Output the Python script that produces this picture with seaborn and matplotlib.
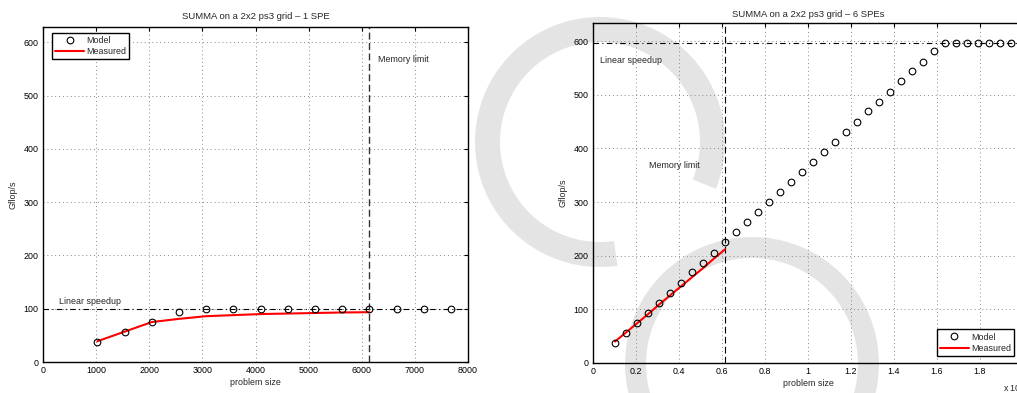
import matplotlib
matplotlib.use("Agg")
import matplotlib.pyplot as plt
from matplotlib.patches import Wedge
import seaborn as sns
import numpy as np

# ---------------- data ----------------
# Left: 1 SPE
left_model_x = [1024, 1536, 2048, 2560, 3072, 3584, 4096, 4608, 5120, 5632, 6144, 6656, 7168, 7680]
left_model_y = [37.5, 56, 75, 93.5, 100, 100, 100, 100, 100, 100, 100, 100, 100, 100]
left_meas_x = [1024, 1536, 2048, 2560, 3072, 3584, 4096, 4608, 5120, 5632, 6144]
left_meas_y = [39, 57, 75, 81, 86, 88, 90, 91, 92, 93, 93.5]
left_speedup = 100
left_memlimit = 6144

# Right: 6 SPEs (problem size in units of 10^4)
right_model_x = [0.1024, 0.1536, 0.2048, 0.2560, 0.3072, 0.3584, 0.4096, 0.4608, 0.5120, 0.5632,
                 0.6144, 0.6656, 0.7168, 0.7680, 0.8192, 0.8704, 0.9216, 0.9728, 1.0240, 1.0752,
                 1.1264, 1.1776, 1.2288, 1.2800, 1.3312, 1.3824, 1.4336, 1.4848, 1.5360, 1.5872,
                 1.6384, 1.6896, 1.7408, 1.7920, 1.8432, 1.8944, 1.9456]
right_model_y = [37.5, 56, 75, 94, 112, 131, 150, 169, 187, 206,
                 225, 244, 262, 281, 300, 319, 337, 356, 375, 394,
                 412, 431, 450, 469, 487, 506, 525, 544, 562, 581,
                 597, 597, 597, 597, 597, 597, 597]
right_meas_x = [0.1024, 0.1536, 0.2048, 0.2560, 0.3072, 0.3584, 0.4096, 0.4608, 0.5120, 0.5632, 0.6144]
right_meas_y = [40, 57, 74, 91, 109, 126, 143, 160, 177, 195, 212]
right_speedup = 597
right_memlimit = 0.6144

left_xticks = [0, 1000, 2000, 3000, 4000, 5000, 6000, 7000, 8000]
right_xticks = [0, 0.2, 0.4, 0.6, 0.8, 1.0, 1.2, 1.4, 1.6, 1.8]
yticks = [0, 100, 200, 300, 400, 500, 600]

titles = ["SUMMA on a 2x2 ps3 grid \u2013 1 SPE", "SUMMA on a 2x2 ps3 grid \u2013 6 SPEs"]

# ---------------- style ----------------
sns.set_style("white")
plt.rcParams['font.family'] = ['Liberation Sans', 'DejaVu Sans']
FS = 6.4

W, H = 1017, 393
fig = plt.figure(figsize=(W / 100, H / 100), dpi=100)

def px_axes(l, r, t, b):
    return fig.add_axes([l / W, (H - b) / H, (r - l) / W, (b - t) / H])

axL = px_axes(43, 468, 27, 362)
axR = px_axes(593, 1023, 23, 363)

# watermark rings (decorative, behind axes)
ring_col = '#e4e4e4'
w1 = Wedge((6.00, (H - 142) / 100), 1.25, -22, 278, width=0.25,
           transform=fig.dpi_scale_trans, facecolor=ring_col, edgecolor='none', zorder=-5)
w2 = Wedge((7.52, (H - 364) / 100), 1.27, 0, 360, width=0.21,
           transform=fig.dpi_scale_trans, facecolor=ring_col, edgecolor='none', zorder=-5)
fig.add_artist(w1)
fig.add_artist(w2)

def style_axes(ax, xticks, ylim, xlim):
    ax.set_facecolor('none')
    ax.set_xlim(*xlim)
    ax.set_ylim(*ylim)
    ax.set_xticks(xticks)
    ax.set_yticks(yticks)
    ax.xaxis.set_major_formatter(matplotlib.ticker.FormatStrFormatter('%g'))
    ax.grid(True, linestyle=(0, (1, 3)), color='#8a8a8a', linewidth=0.7)
    ax.tick_params(direction='in', length=3, width=0.8, top=True, right=True,
                   labelsize=FS, pad=3.2, colors='black')
    for s in ax.spines.values():
        s.set_color('black')
        s.set_linewidth(1.0)
        s.set_visible(True)
    ax.set_xlabel('problem size', fontsize=FS, labelpad=2)
    ax.set_ylabel('Gflop/s', fontsize=FS, labelpad=4)

# ---------------- left ----------------
style_axes(axL, left_xticks, (0, 629), (0, 8000))
axL.axhline(left_speedup, color='black', lw=0.8, linestyle=(0, (5, 3, 1, 3)), zorder=2)
axL.axvline(left_memlimit, color='#333333', lw=1.0, linestyle=(0, (5, 2.5)), zorder=2)
sns.lineplot(x=left_model_x, y=left_model_y, ax=axL, marker='o', linestyle='', markersize=4.8,
             markerfacecolor='none', markeredgecolor='black', markeredgewidth=0.8,
             color='black', label='Model', zorder=4)
sns.lineplot(x=left_meas_x, y=left_meas_y, ax=axL, color='red', lw=1.5, label='Measured', zorder=3)
axL.text(300, 114, 'Linear speedup', fontsize=FS, va='center', ha='left')
axL.text(6300, 568, 'Memory limit', fontsize=FS, va='center', ha='left')
axL.set_title(titles[0], fontsize=6.8, pad=5.5)
legL = axL.legend(loc='upper left', bbox_to_anchor=(0.021, 0.982), borderaxespad=0,
                  fontsize=FS, fancybox=False, frameon=True, edgecolor='black',
                  handlelength=3.3, handletextpad=0.2, labelspacing=0.25, borderpad=0.35)
legL.get_frame().set_linewidth(1.0)
legL.get_frame().set_alpha(1)

# ---------------- right ----------------
style_axes(axR, right_xticks, (0, 634), (0, 2.0))
axR.axhline(right_speedup, color='black', lw=0.8, linestyle=(0, (5, 3, 1, 3)), zorder=2)
axR.axvline(right_memlimit, color='black', lw=0.8, linestyle=(0, (6, 3)), zorder=2)
sns.lineplot(x=right_model_x, y=right_model_y, ax=axR, marker='o', linestyle='', markersize=4.8,
             markerfacecolor='none', markeredgecolor='black', markeredgewidth=0.8,
             color='black', label='Model', zorder=4)
sns.lineplot(x=right_meas_x, y=right_meas_y, ax=axR, color='red', lw=1.5, label='Measured', zorder=3)
axR.text(0.033, 565, 'Linear speedup', fontsize=FS, va='center', ha='left')
axR.text(0.26, 368, 'Memory limit', fontsize=FS, va='center', ha='left')
axR.set_title(titles[1], fontsize=6.8, pad=4)
legR = axR.legend(loc='lower right', bbox_to_anchor=(0.979, 0.021), borderaxespad=0,
                  fontsize=FS, fancybox=False, frameon=True, edgecolor='black',
                  handlelength=3.3, handletextpad=0.2, labelspacing=0.25, borderpad=0.35)
legR.get_frame().set_linewidth(1.0)
legR.get_frame().set_alpha(1)

fig.text(1003 / W, 1 - 388 / H, 'x 10$^{4}$', fontsize=FS, ha='left', va='center')

fig.savefig('out.png', dpi=100)
